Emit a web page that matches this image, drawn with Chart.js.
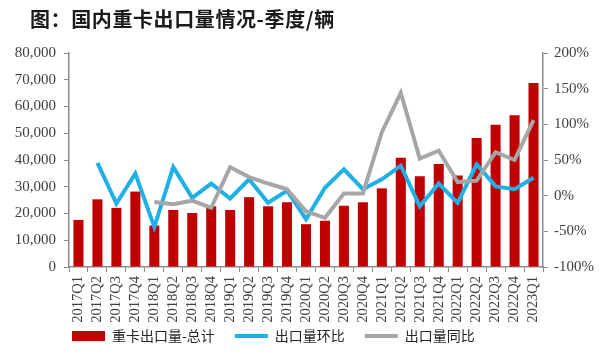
<!DOCTYPE html>
<html>
<head>
<meta charset="utf-8">
<script src="https://cdn.jsdelivr.net/npm/chart.js@4/dist/chart.umd.min.js"></script>
<style>
  html, body { margin: 0; padding: 0; background: #fff; }
  #wrap { position: relative; width: 600px; height: 354px; }
  #title {
    position: absolute; left: 30px; top: 4px;
    font-family: "Noto Sans CJK SC", sans-serif; font-weight: bold;
    font-size: 20px; color: #1a1a1a; letter-spacing: 0.6px;
  }
</style>
</head>
<body>
<div id="wrap">
  <div id="title">图：国内重卡出口量情况-季度/辆</div>
  <canvas id="chart" width="600" height="354"></canvas>
</div>
<script>
// quarters 2017Q1 .. 2023Q1
const quarters = [
  "2017Q1", "2017Q2", "2017Q3", "2017Q4",
  "2018Q1", "2018Q2", "2018Q3", "2018Q4",
  "2019Q1", "2019Q2", "2019Q3", "2019Q4",
  "2020Q1", "2020Q2", "2020Q3", "2020Q4",
  "2021Q1", "2021Q2", "2021Q3", "2021Q4",
  "2022Q1", "2022Q2", "2022Q3", "2022Q4",
  "2023Q1"
];

// heavy truck exports, units
const exportTotal = [
  17600, 25300, 22100, 28200,
  15500, 21300, 20200, 22700,
  21300, 26100, 22700, 24200,
  16000, 17300, 22900, 24200,
  29400, 40800, 33900, 38500,
  34200, 48200, 53200, 56700,
  68800
];

// quarter-on-quarter change, %
const qoq = [
  null, 46, -11, 31,
  -44, 40, -3, 17,
  -4, 23, -10, 7,
  -33, 11, 37, 9,
  23, 42, -15, 17,
  -10, 44, 13, 9,
  25
];

// year-on-year change, %
const yoy = [
  null, null, null, null,
  -9, -12, -7, -17,
  40, 26, 17, 9,
  -22, -31, 3, 3,
  89, 144, 52, 63,
  19, 21, 61, 50,
  106
];

const leftTicks = [0, 10000, 20000, 30000, 40000, 50000, 60000, 70000, 80000];
const rightTicks = [-100, -50, 0, 50, 100, 150, 200];

const axisGrey = "#8c8c8c";
const tickFont = { family: "Liberation Serif", size: 15 };

// move the legend row to where the original sits
const legendShift = {
  id: "legendShift",
  afterLayout(chart) {
    const lg = chart.legend;
    lg.left += 52;
    lg.right += 52;
    lg.top -= 14;
    lg.bottom -= 14;
  }
};

const ctx = document.getElementById("chart").getContext("2d");

new Chart(ctx, {
  data: {
    labels: quarters,
    datasets: [
      {
        type: "bar",
        label: "重卡出口量-总计",
        data: exportTotal,
        backgroundColor: "#C00000",
        barPercentage: 0.53,
        categoryPercentage: 1.0,
        yAxisID: "y",
        order: 3
      },
      {
        type: "line",
        label: "出口量环比",
        data: qoq,
        borderColor: "#1FB0E6",
        borderWidth: 4,
        pointRadius: 0,
        tension: 0,
        yAxisID: "y2",
        order: 2
      },
      {
        type: "line",
        label: "出口量同比",
        data: yoy,
        borderColor: "#A6A6A6",
        borderWidth: 4,
        pointRadius: 0,
        tension: 0,
        yAxisID: "y2",
        order: 1
      }
    ]
  },
  plugins: [legendShift],
  options: {
    responsive: false,
    animation: false,
    layout: { padding: { top: 53, right: 0, left: 0, bottom: -13 } },
    plugins: {
      tooltip: { enabled: false },
      legend: {
        position: "bottom",
        align: "start",
        labels: {
          font: { family: "Noto Sans CJK SC", size: 14 },
          color: "#262626",
          usePointStyle: true,
          boxHeight: 10,
          pointStyleWidth: 33,
          padding: 20,
          sort: (a, b) => a.datasetIndex - b.datasetIndex,
          generateLabels: (chart) => chart.data.datasets.map((ds, i) => ({
            text: ds.label,
            datasetIndex: i,
            fillStyle: ds.type === "bar" ? ds.backgroundColor : ds.borderColor,
            strokeStyle: ds.type === "bar" ? ds.backgroundColor : ds.borderColor,
            lineWidth: ds.type === "bar" ? 0 : 4,
            pointStyle: ds.type === "bar" ? "rect" : "line",
            fontColor: "#262626",
            hidden: false
          }))
        }
      }
    },
    scales: {
      x: {
        offset: true,
        grid: {
          display: true, offset: true, drawOnChartArea: false,
          drawTicks: true, tickLength: 5, color: axisGrey
        },
        border: { color: axisGrey, width: 1.5 },
        ticks: {
          font: { family: "Liberation Serif", size: 14.5 },
          color: "#404040",
          minRotation: 90, maxRotation: 90,
          autoSkip: false, padding: 4
        },
        afterFit: (s) => { s.height = 56; }
      },
      y: {
        position: "left",
        min: 0, max: 80000,
        afterBuildTicks: (s) => { s.ticks = leftTicks.map(v => ({ value: v })); },
        grid: { drawOnChartArea: false, drawTicks: true, tickLength: 5, color: axisGrey },
        border: { color: axisGrey, width: 1.5 },
        ticks: {
          font: tickFont, color: "#404040", padding: 8,
          callback: (v) => v.toLocaleString("en-US")
        },
        afterFit: (s) => { s.width = 69; }
      },
      y2: {
        position: "right",
        min: -100, max: 200,
        afterBuildTicks: (s) => { s.ticks = rightTicks.map(v => ({ value: v })); },
        grid: { drawOnChartArea: false, drawTicks: true, tickLength: 5, color: axisGrey },
        border: { color: axisGrey, width: 1.5 },
        ticks: {
          font: tickFont, color: "#404040", padding: 6,
          callback: (v) => v + "%"
        },
        afterFit: (s) => { s.width = 57; }
      }
    }
  }
});
</script>
</body>
</html>
